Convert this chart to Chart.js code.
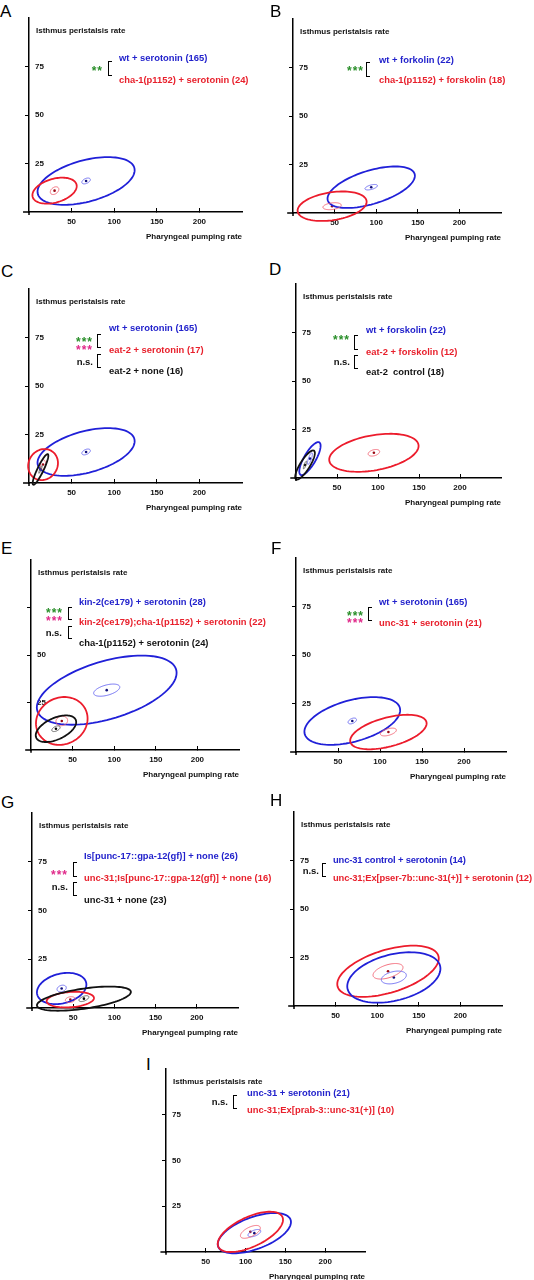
<!DOCTYPE html>
<html>
<head>
<meta charset="utf-8">
<script src="https://cdn.jsdelivr.net/npm/chart.js@4.4.0/dist/chart.umd.min.js"></script>
<style>
  body { margin: 0; background: #fff; width: 534px; height: 1280px; position: relative; overflow: hidden;
         font-family: 'Liberation Sans', Arial, sans-serif; }
  .abs { position: absolute; white-space: pre; }
  .letter { font-size: 17px; line-height: 17px; color: #000; }
  .ytitle { font-size: 8px; font-weight: bold; line-height: 10px; color: #111; }
  .lab { font-size: 9.4px; font-weight: bold; line-height: 12px; }
  .star { font-size: 12px; font-weight: bold; line-height: 11px; letter-spacing: 1px; transform: translateX(-100%); }
  .ns { font-size: 9.5px; font-weight: bold; line-height: 12px; color: #111; transform: translateX(-100%); }
  .br { border: 1.3px solid #000; border-right: none; width: 4px; box-sizing: border-box; }
  canvas { position: absolute; }
</style>
</head>
<body>
<script>
const panelIds = ['A', 'B', 'C', 'D', 'E', 'F', 'G', 'H', 'I'];
const xTicks = [50, 100, 150, 200];
const yTicks = [25, 50, 75];

// one entry per group: mean, spread (outer ellipse half-axes), error of mean (inner ellipse), correlation
const grpPanel = ['A', 'A', 'B', 'B', 'C', 'C', 'C', 'D', 'D', 'D', 'E', 'E', 'E', 'F', 'F', 'G', 'G', 'G', 'H', 'H', 'I', 'I'];
const grpColor = ['blue', 'red', 'blue', 'red', 'blue', 'red', 'black', 'blue', 'red', 'black',
                  'blue', 'red', 'black', 'blue', 'red', 'blue', 'red', 'black', 'red', 'blue', 'blue', 'red'];
const grpMeanX = [67, 30, 94, 47, 67, 16.5, 13.5, 17, 95, 11, 91, 37, 30, 67, 110, 36, 46.5, 63, 113, 120, 111, 106];
const grpMeanY = [16, 11, 13.3, 3.5, 16, 9.5, 7, 10, 13, 6.7, 31.5, 15.3, 11.2, 16, 10.3, 10, 4.3, 4.8, 17.9, 14.7, 10.3, 11];
const grpSdX = [57, 26, 52.5, 41.5, 57, 17.5, 9.2, 13, 54.5, 12, 84, 31, 24.3, 57, 45.5, 30, 28.7, 57, 61, 56, 46, 41];
const grpSdY = [12.3, 6.7, 10.7, 7.6, 12.3, 8, 7.9, 8.5, 9.8, 7.5, 18.2, 12.6, 7, 12.3, 8.9, 8, 4, 6.2, 13.2, 13, 11, 11];
const grpRho = [0.45, 0.35, 0.55, 0.3, 0.45, 0.1, 0.9, 0.78, 0.36, 0.82, 0.5, 0.1, 0.5, 0.45, 0.5, 0.25, 0.2, 0.55, 0.5, 0.35, 0.55, 0.6];
const grpSemX = [5, 5, 7.5, 11, 5, 3, 2, 3, 7, 2, 15.7, 7, 5, 5, 9.5, 5.6, 6, 6, 18, 15, 8, 12.5];
const grpSemY = [1.5, 2, 1.4, 1.8, 1.5, 2.5, 2, 3, 1.7, 2, 3.2, 2.5, 1.5, 1.5, 2, 1.7, 1.5, 1.5, 4, 3.3, 2, 3.5];

const labelPanel = ['A', 'A', 'B', 'B', 'C', 'C', 'C', 'D', 'D', 'D', 'E', 'E', 'E', 'F', 'F', 'G', 'G', 'G', 'H', 'H', 'I', 'I'];
const labelText = [
  'wt + serotonin (165)', 'cha-1(p1152) + serotonin (24)',
  'wt + forkolin (22)', 'cha-1(p1152) + forskolin (18)',
  'wt + serotonin (165)', 'eat-2 + serotonin (17)', 'eat-2 + none (16)',
  'wt + forskolin (22)', 'eat-2 + forskolin (12)', 'eat-2  control (18)',
  'kin-2(ce179) + serotonin (28)', 'kin-2(ce179);cha-1(p1152) + serotonin (22)', 'cha-1(p1152) + serotonin (24)',
  'wt + serotonin (165)', 'unc-31 + serotonin (21)',
  'Is[punc-17::gpa-12(gf)] + none (26)', 'unc-31;Is[punc-17::gpa-12(gf)] + none (16)', 'unc-31 + none (23)',
  'unc-31 control + serotonin (14)', 'unc-31;Ex[pser-7b::unc-31(+)] + serotonin (12)',
  'unc-31 + serotonin (21)', 'unc-31;Ex[prab-3::unc-31(+)] (10)'
];
const labelColor = ['blue', 'red', 'blue', 'red', 'blue', 'red', 'black', 'blue', 'red', 'black',
                    'blue', 'red', 'black', 'blue', 'red', 'blue', 'red', 'black', 'blue', 'red', 'blue', 'red'];

const sigPanel = ['A', 'B', 'C', 'C', 'C', 'D', 'D', 'E', 'E', 'E', 'F', 'F', 'G', 'G', 'H', 'I'];
const sigText = ['**', '***', '***', '***', 'n.s.', '***', 'n.s.', '***', '***', 'n.s.', '***', '***', '***', 'n.s.', 'n.s.', 'n.s.'];
const sigColor = ['green', 'green', 'green', 'magenta', 'black', 'green', 'black', 'green', 'magenta', 'black',
                  'green', 'magenta', 'magenta', 'black', 'black', 'black'];

// layout
const frames = {
  A: { ox: 29, oy: 212, sx: 0.85, sy: 1.96, letter: [0, 3] },
  B: { ox: 293, oy: 213, sx: 0.83, sy: 1.96, letter: [270, 3] },
  C: { ox: 29, oy: 483, sx: 0.85, sy: 1.96, letter: [1, 263] },
  D: { ox: 296, oy: 478, sx: 0.82, sy: 1.96, letter: [269, 261] },
  E: { ox: 31, oy: 750, sx: 0.83, sy: 1.92, letter: [1, 540], hide75: true },
  F: { ox: 296, oy: 752, sx: 0.84, sy: 1.96, letter: [271, 540] },
  G: { ox: 32, oy: 1008, sx: 0.825, sy: 1.97, letter: [1, 794] },
  H: { ox: 294, oy: 1006, sx: 0.83, sy: 1.96, letter: [270, 792] },
  I: { ox: 166, oy: 1252, sx: 0.795, sy: 1.85, letter: [146, 1056] }
};
const legendPos = {
  A: [119, [57.5, 79.5]], B: [379, [60, 80]], C: [109, [328, 350, 371]], D: [366, [330, 352, 372]],
  E: [79, [602, 622, 643]], F: [379, [602, 623]], G: [84, [856, 878, 900]], H: [333, [860, 878], -0.15], I: [247, [1093, 1110]]
};
const sigPos = [[103, 69], [364, 69], [93, 340], [93, 348], [93, 363], [350, 338], [350, 363],
                [63, 611], [63, 619], [62, 634], [364, 614], [364, 621], [68, 873], [68, 888], [319, 872], [228, 1103]];
const bracketPos = [[108, 61, 76], [366, 62, 77], [97, 334, 348], [97, 354, 368], [354, 335, 350], [354, 355, 369],
                    [68, 607, 620], [68, 626, 639], [368, 607, 621], [73, 862, 877], [73, 882, 896], [322, 863, 877], [233, 1095, 1109]];

const lineCol = { blue: '#2020d8', red: '#ec1c2c', black: '#111111' };
const innerCol = { blue: '#6464f0', red: '#f26070', black: '#555555' };
const dotCol = { blue: '#10107a', red: '#9a0a14', black: '#000000' };
const textCol = { blue: '#2222cc', red: '#e8202c', black: '#111111', green: '#2a8f2a', magenta: '#e02a8a' };
const FONT = "'Liberation Sans', Arial, sans-serif";
const Y_W = 8, X_H = 30, PAD_TOP = 2, PAD_RIGHT = 4;

function addDiv(cls, text, left, top, color) {
  const d = document.createElement('div');
  d.className = 'abs ' + cls;
  d.textContent = text;
  d.style.left = left + 'px';
  d.style.top = top + 'px';
  if (color) d.style.color = color;
  document.body.appendChild(d);
  return d;
}

function traceEllipse(ctx, xs, ys, mx, my, rx, ry, rho) {
  const k = Math.sqrt(1 - rho * rho);
  ctx.beginPath();
  for (let i = 0; i <= 96; i++) {
    const t = i / 96 * Math.PI * 2;
    const px = xs.getPixelForValue(mx + rx * Math.cos(t));
    const py = ys.getPixelForValue(my + ry * (rho * Math.cos(t) + k * Math.sin(t)));
    if (i === 0) ctx.moveTo(px, py); else ctx.lineTo(px, py);
  }
  ctx.closePath();
  ctx.stroke();
}

const ellipsePlugin = {
  id: 'ellipses',
  afterDatasetsDraw(chart, args, opts) {
    const { ctx } = chart;
    const xs = chart.scales.x, ys = chart.scales.y;
    ctx.save();
    opts.groups.forEach(i => {
      ctx.strokeStyle = lineCol[grpColor[i]];
      ctx.lineWidth = 1.8;
      traceEllipse(ctx, xs, ys, grpMeanX[i], grpMeanY[i], grpSdX[i], grpSdY[i], grpRho[i]);
      ctx.strokeStyle = innerCol[grpColor[i]];
      ctx.lineWidth = 0.9;
      traceEllipse(ctx, xs, ys, grpMeanX[i], grpMeanY[i], grpSemX[i], grpSemY[i], grpRho[i]);
    });
    ctx.restore();
  }
};

// axis lines run a little past the origin
const axisStubs = {
  id: 'axisStubs',
  afterDraw(chart) {
    const { ctx } = chart;
    const xs = chart.scales.x, ys = chart.scales.y;
    ctx.save();
    ctx.strokeStyle = '#000';
    ctx.lineWidth = 1.5;
    ctx.beginPath();
    ctx.moveTo(xs.getPixelForValue(-7), ys.getPixelForValue(0));
    ctx.lineTo(xs.getPixelForValue(0), ys.getPixelForValue(0));
    ctx.moveTo(xs.getPixelForValue(0), ys.getPixelForValue(0));
    ctx.lineTo(xs.getPixelForValue(0), ys.getPixelForValue(-1.5));
    ctx.stroke();
    ctx.restore();
  }
};

panelIds.forEach(id => {
  const f = frames[id];
  const top = f.oy - 100 * f.sy;
  const canvas = document.createElement('canvas');
  canvas.width = Math.round(Y_W + 250 * f.sx + PAD_RIGHT);
  canvas.height = Math.round(PAD_TOP + 100 * f.sy + X_H);
  canvas.style.left = (f.ox - Y_W) + 'px';
  canvas.style.top = (top - PAD_TOP) + 'px';
  document.body.appendChild(canvas);

  const groups = [];
  grpPanel.forEach((p, i) => { if (p === id) groups.push(i); });
  const datasets = groups.map(i => ({
    data: [{ x: grpMeanX[i], y: grpMeanY[i] }],
    pointRadius: 1.3,
    pointBackgroundColor: dotCol[grpColor[i]],
    pointBorderWidth: 0,
    clip: false
  }));

  new Chart(canvas, {
    type: 'scatter',
    data: { datasets },
    options: {
      responsive: false,
      animation: false,
      devicePixelRatio: 1,
      layout: { padding: { top: PAD_TOP, right: PAD_RIGHT, left: 0, bottom: 0 } },
      plugins: {
        legend: { display: false },
        tooltip: { enabled: false },
        ellipses: { groups }
      },
      scales: {
        x: {
          type: 'linear', min: 0, max: 250,
          afterBuildTicks: s => { s.ticks = xTicks.map(v => ({ value: v })); },
          afterFit: s => { s.height = X_H; s.paddingLeft = 0; s.paddingRight = 0; },
          // tick marks point up into the plot, as in the figure
          grid: { drawOnChartArea: false, tickLength: -4, color: '#000', lineWidth: 1 },
          border: { display: true, color: '#000', width: 1.5 },
          ticks: { font: { family: FONT, size: 8, weight: 'bold' }, color: '#111', padding: 9, maxRotation: 0, autoSkip: false },
          title: { display: true, text: 'Pharyngeal pumping rate', align: 'end', color: '#111',
                   font: { family: FONT, size: 8, weight: 'bold' }, padding: { top: 2, bottom: 0 } }
        },
        y: {
          type: 'linear', min: 0, max: 100,
          afterBuildTicks: s => { s.ticks = yTicks.map(v => ({ value: v })); },
          afterFit: s => { s.width = Y_W; s.paddingTop = 0; s.paddingBottom = 0; },
          grid: { drawOnChartArea: false, tickLength: 4, color: '#000', lineWidth: 1 },
          border: { display: true, color: '#000', width: 1.5 },
          ticks: { mirror: true, padding: 6, font: { family: FONT, size: 8, weight: 'bold' }, color: '#111',
                   callback: v => (f.hide75 && v === 75) ? '' : v }
        }
      }
    },
    plugins: [ellipsePlugin, axisStubs]
  });

  addDiv('letter', id, f.letter[0], f.letter[1]);
  addDiv('ytitle', 'Isthmus peristalsis rate', f.ox + 7, top + 10);
});

const rowCount = {};
labelPanel.forEach((p, i) => {
  const n = rowCount[p] || 0;
  rowCount[p] = n + 1;
  const [lx, rows, spacing] = legendPos[p];
  const d = addDiv('lab', labelText[i], lx, rows[n] - 6, textCol[labelColor[i]]);
  if (spacing) d.style.letterSpacing = spacing + 'px';
});

sigText.forEach((t, i) => {
  const [rx, cy] = sigPos[i];
  if (t === 'n.s.') addDiv('ns', t, rx, cy - 7);
  else addDiv('star', t, rx, cy - 3, textCol[sigColor[i]]);
});

bracketPos.forEach(([bx, y1, y2]) => {
  const d = addDiv('br', '', bx, y1);
  d.style.height = (y2 - y1) + 'px';
});
</script>
</body>
</html>
